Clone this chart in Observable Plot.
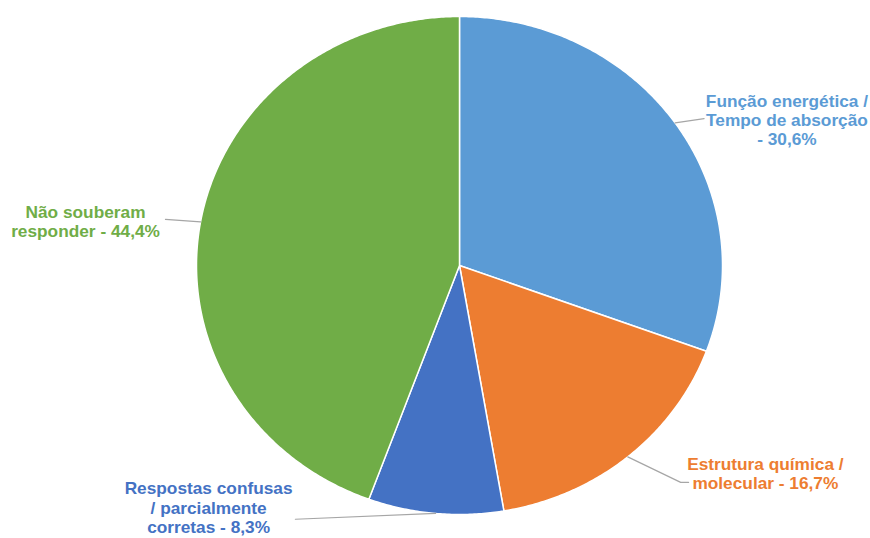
<!DOCTYPE html>
<html><head><meta charset="utf-8">
<script src="https://cdn.jsdelivr.net/npm/d3@7"></script>
<script src="https://cdn.jsdelivr.net/npm/@observablehq/plot@0.6"></script>
<style>body{margin:0;background:#fff;} #chart{width:870px;height:538px;}</style>
</head><body><div id="chart"></div>
<script>
// Data
const categories = ["Função energética / Tempo de absorção", "Estrutura química / molecular", "Respostas confusas / parcialmente corretas", "Não souberam responder"];
const values = [30.6, 16.7, 8.3, 44.4];
const labels = ["Função energética /\nTempo de absorção\n- 30,6%", "Estrutura química /\nmolecular - 16,7%", "Respostas confusas\n/ parcialmente\ncorretas - 8,3%", "Não souberam\nresponder - 44,4%"];
const colors = ["#5B9BD5", "#ED7D31", "#4472C4", "#70AD47"];

// Layout (data units, pie radius = 1)
const labelPos = [[1.245, 0.586], [1.163, -0.836], [-0.954, -0.972], [-1.422, 0.177]];
const leaderEnd = [[[0.93, 0.59]], [[0.841, -0.871], [0.871, -0.871]], [[-0.624, -1.019]], [[-1.118, 0.185]]];

const total = d3.sum(values);
let acc = 0;
const slices = values.map((v, i) => {
  const a0 = acc / total * 2 * Math.PI;
  acc += v;
  const a1 = acc / total * 2 * Math.PI;
  return {i, a0, a1, mid: (a0 + a1) / 2};
});
const polys = [];
slices.forEach(s => {
  polys.push({k: s.i, x: 0, y: 0});
  const n = Math.max(2, Math.ceil((s.a1 - s.a0) / (Math.PI / 360)));
  for (let j = 0; j <= n; j++) {
    const a = s.a0 + (s.a1 - s.a0) * j / n;
    polys.push({k: s.i, x: Math.sin(a), y: Math.cos(a)});
  }
  polys.push({k: s.i, x: 0, y: 0});
});
const leaders = [];
slices.forEach(s => {
  const pts = [{x: Math.sin(s.mid), y: Math.cos(s.mid)}, ...leaderEnd[s.i].map(([x, y]) => ({x, y}))];
  pts.forEach(p => leaders.push({k: s.i, ...p}));
});
const texts = labels.map((t, i) => ({t, x: labelPos[i][0], y: labelPos[i][1], c: colors[i]}));

const chart = Plot.plot({
  width: 870, height: 538,
  margin: 0,
  x: {domain: [-1, 1], range: [196, 722], axis: null},
  y: {domain: [-1, 1], range: [514, 16], axis: null},
  marks: [
    ...slices.map(s => Plot.line(polys.filter(p => p.k === s.i), {x: "x", y: "y", fill: colors[s.i], stroke: "white", strokeWidth: 1.5, strokeLinejoin: "round"})),
    Plot.line(leaders, {x: "x", y: "y", z: "k", stroke: "#a6a6a6", strokeWidth: 1.2}),
    Plot.text(texts, {x: "x", y: "y", text: "t", fill: "c", fontSize: 16, fontWeight: "bold", lineHeight: 1.2, textAnchor: "middle", lineAnchor: "middle", fontFamily: "Liberation Sans, Arial, sans-serif", className: "lbl"})
  ]
});
// slight horizontal stretch of labels to match the reference's wide lettering
chart.querySelectorAll("g.lbl text").forEach(t => {
  const tr = t.getAttribute("transform") || "";
  t.setAttribute("transform", tr + " scale(1.08,1)");
});
document.getElementById("chart").append(chart);
</script></body></html>
